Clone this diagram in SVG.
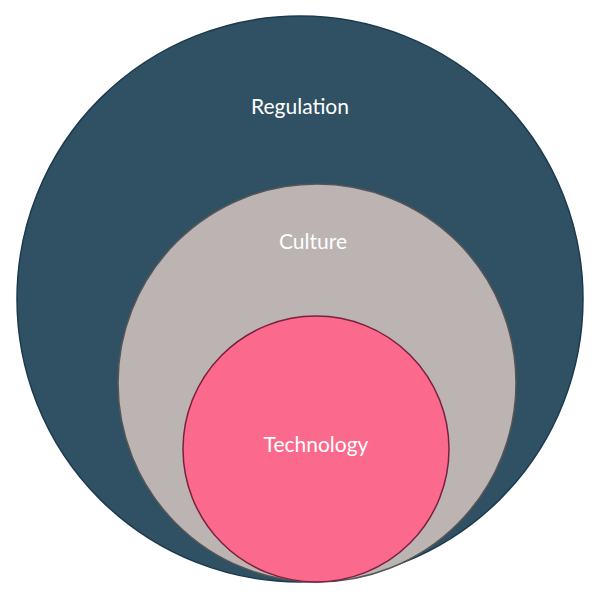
<svg xmlns="http://www.w3.org/2000/svg" width="600" height="600" viewBox="0 0 600 600">
<style>
text{font-family:Lato,"Open Sans",sans-serif;font-size:21px;fill:#ffffff;text-anchor:middle}
</style>
<rect width="600" height="600" fill="#ffffff"/>
<g id="regulation">
<circle cx="300" cy="299" r="283" fill="#305163" stroke="#1c3a4e" stroke-width="1.5"/>
<text x="300" y="114">Regulation</text>
</g>
<g id="culture">
<circle cx="317" cy="383" r="199" fill="#bcb3b3" stroke="#555555" stroke-width="1.5"/>
<text x="313" y="249">Culture</text>
</g>
<g id="technology">
<circle cx="316" cy="449" r="133" fill="#fb6a8c" stroke="#7c1f3c" stroke-width="1.5"/>
<text x="316" y="452">Technology</text>
</g>
<g id="connectors"/>
</svg>
